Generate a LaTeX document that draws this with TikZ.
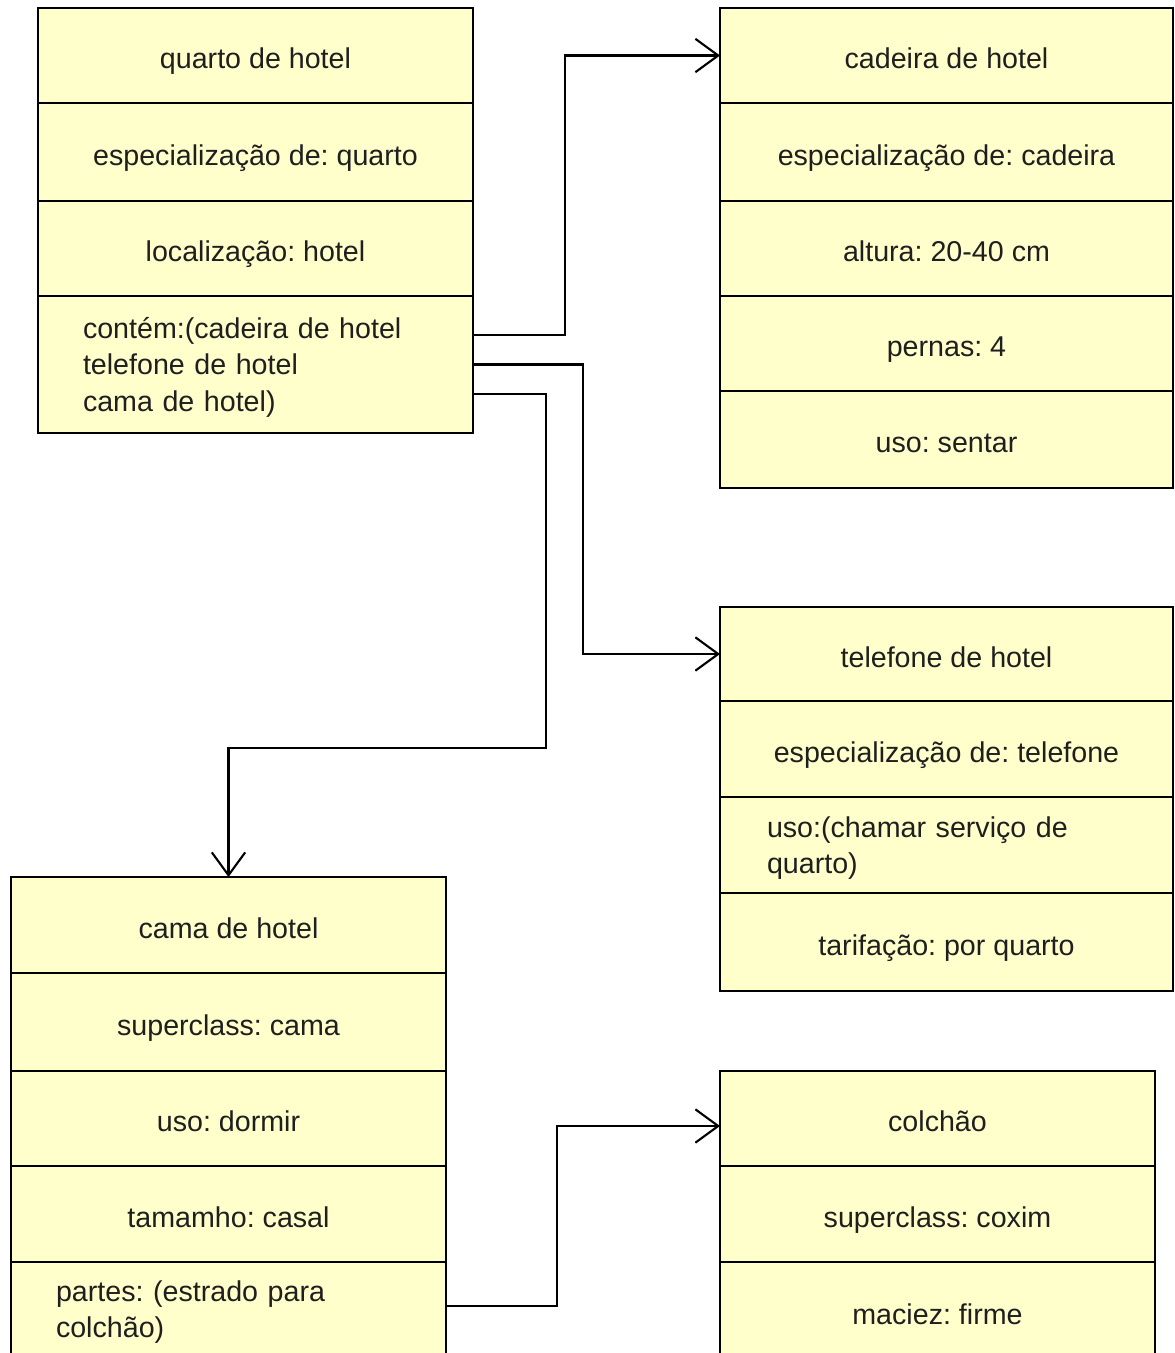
\documentclass[tikz,border=0pt]{standalone}
\usepackage{fontspec}
\setmainfont{Liberation Sans}
\usetikzlibrary{arrows.meta}
\definecolor{boxyellow}{HTML}{FFFFCC}
\newcommand\boxfont{\fontsize{16.3}{20.5}\selectfont\frenchspacing}
\newcommand\topstrut{\rule{0pt}{15.3pt}}
\begin{document}
\begin{tikzpicture}[x=0.02cm, y=-0.02cm,
  row/.style={draw=black, fill=boxyellow, line width=1.2pt, inner sep=0pt, outer sep=0pt, font=\boxfont, align=center, text=black!88},
  one/.style={text height=16pt, text depth=1.1pt},
  bw/.style={minimum width=#1*0.02cm},
  bh/.style={minimum height=#1*0.02cm},
  lefttext/.style={text width=#1*0.02cm, align=left},
  conn/.style={draw=black, line width=1.2pt, -{Straight Barb[length=13pt,width=19pt]}}]
\useasboundingbox (0,0) rectangle (1174,1353);
\clip (0,0) rectangle (1174,1353);
\fill[white] (0,0) rectangle (1174,1353);

% quarto de hotel
\node[row,one,bw=435,bh=95]  (q1) at (255.5,55.5)  {quarto de hotel};
\node[row,one,bw=435,bh=98]  (q2) at (255.5,152)   {especialização de: quarto};
\node[row,one,bw=435,bh=95]  (q3) at (255.5,248.5) {localização: hotel};
\node[row,bw=435,bh=137,lefttext=345] (q4) at (255.5,364.5) {\topstrut contém:(cadeira de hotel\\telefone de hotel\\cama de hotel)};

% cadeira de hotel
\node[row,one,bw=453,bh=95] (c1) at (946.5,55.5)  {cadeira de hotel};
\node[row,one,bw=453,bh=98] (c2) at (946.5,152)   {especialização de: cadeira};
\node[row,one,bw=453,bh=95] (c3) at (946.5,248.5) {altura: 20-40 cm};
\node[row,one,bw=453,bh=95] (c4) at (946.5,343.5) {pernas: 4};
\node[row,one,bw=453,bh=97] (c5) at (946.5,439.5) {uso: sentar};

% telefone de hotel
\node[row,one,bw=453,bh=94] (t1) at (946.5,654) {telefone de hotel};
\node[row,one,bw=453,bh=96] (t2) at (946.5,749) {especialização de: telefone};
\node[row,bw=453,bh=96,lefttext=359] (t3) at (946.5,845) {\topstrut uso:(chamar serviço de\\quarto)};
\node[row,one,bw=453,bh=98] (t4) at (946.5,942) {tarifação: por quarto};

% cama de hotel
\node[row,one,bw=435,bh=96] (b1) at (228.5,925)    {cama de hotel};
\node[row,one,bw=435,bh=98] (b2) at (228.5,1022)   {superclass: cama};
\node[row,one,bw=435,bh=95] (b3) at (228.5,1118.5) {uso: dormir};
\node[row,one,bw=435,bh=96] (b4) at (228.5,1214)   {tamamho: casal};
\node[row,bw=435,bh=94,lefttext=345] (b5) at (228.5,1309) {\topstrut partes: (estrado para\\colchão)};

% colchão
\node[row,one,bw=435,bh=95] (m1) at (937.5,1118.5) {colchão};
\node[row,one,bw=435,bh=96] (m2) at (937.5,1214)   {superclass: coxim};
\node[row,one,bw=435,bh=98] (m3) at (937.5,1311)   {maciez: firme};

% connectors
\coordinate (k3) at (228.5,748);
\draw[conn] ([yshift=0.59cm]q4.east) -- ++(92,0) |- (c1.west);
\draw[conn] (q4.east) -- ++(110,0) |- (t1.west);
\draw[conn] ([yshift=-0.59cm]q4.east) -- ++(73,0) |- (k3) -- (b1.north);
\draw[conn] ([yshift=0.06cm]b5.east) -- ++(111,0) |- ([yshift=-0.15cm]m1.west);
\end{tikzpicture}
\end{document}
